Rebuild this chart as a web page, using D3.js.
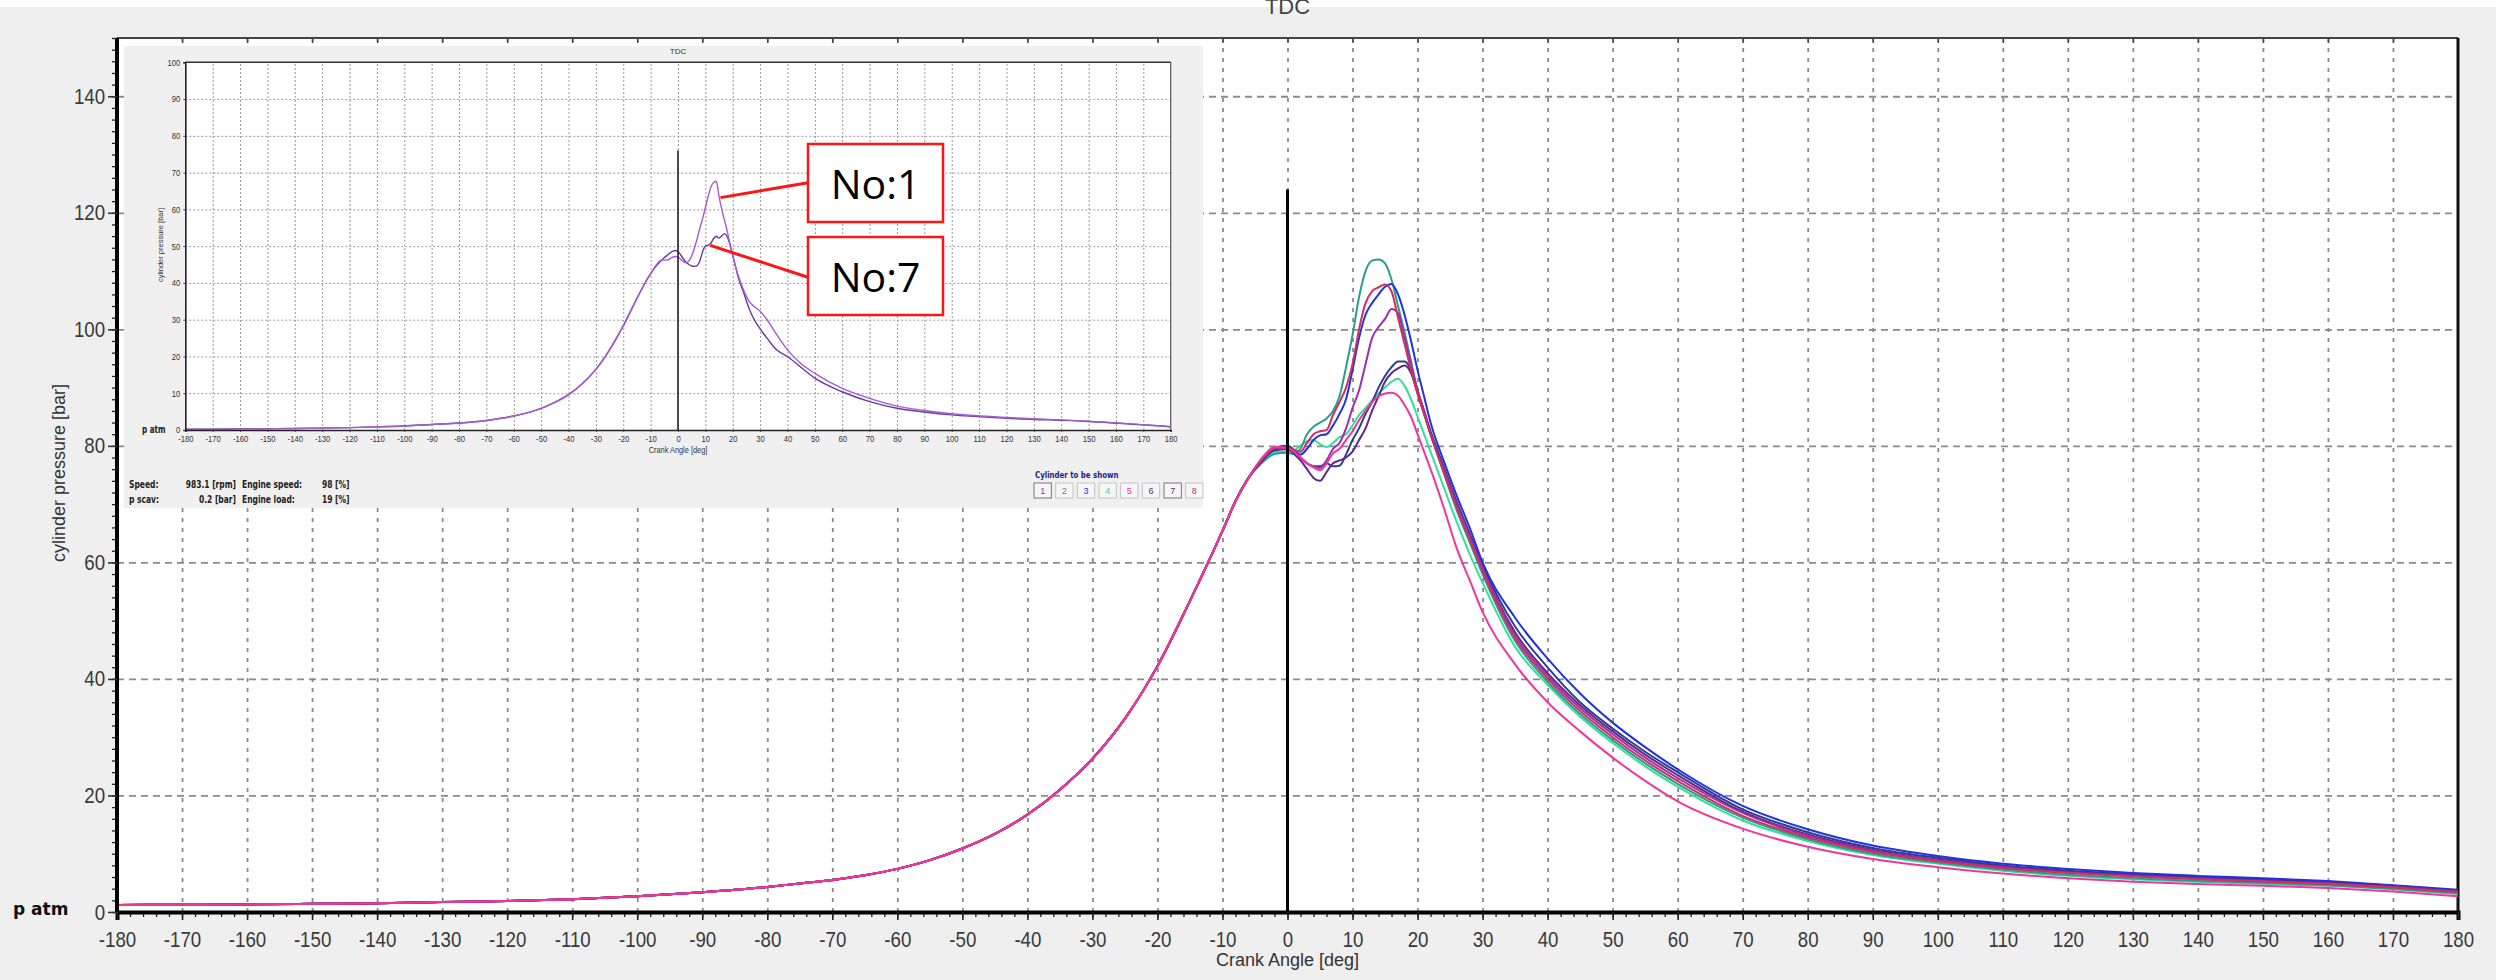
<!DOCTYPE html>
<html>
<head>
<meta charset="utf-8">
<script src="https://cdnjs.cloudflare.com/ajax/libs/d3/7.8.5/d3.min.js"></script>
<style>
  html, body { margin: 0; padding: 0; background: #efefef; }
  svg { display: block; }
</style>
</head>
<body>
<svg id="chart" width="2496" height="980"></svg>
<script>
// ---------- main chart: cylinder pressure of 8 cylinders ----------
// compression stroke, shared by all cylinders (crank angle [deg], pressure [bar])
const compAngles   = [-180,-170,-160,-150,-140,-130,-120,-110,-100,-90,-80,-75,-70,-65,-60,-55,-50,-45,-40,-35,-30,-25,-20,-15,-10,-8,-6];
const compPressure = [1.2,1.25,1.3,1.4,1.5,1.7,1.9,2.2,2.7,3.4,4.3,4.9,5.5,6.3,7.4,8.9,10.9,13.4,16.7,21.0,26.3,33.2,42.2,53.4,65.4,70.5,74.5];

// crank angles from TDC region onwards
const cylAngles = [-4,-2,0,1,2,3,4,5,6,7,8,9,10,11,12,13,14,15,16,17,18,19,20,21,22,24,26,28,30,35,40,45,50,55,60,70,80,90,100,110,120,130,140,150,160,170,180];

const cyl1 = [77.6,79.6,79.8,79.0,78.0,77.0,76.5,76.2,77.5,79.5,80.5,83.0,86.5,89.5,94.0,98.5,100.4,101.8,103.5,102.8,98.5,94.0,89.5,86.0,82.0,76.0,70.0,64.5,59.0,47.5,40.5,35.0,30.5,26.5,23.0,17.0,13.1,10.5,8.9,7.7,6.8,6.2,5.7,5.3,4.9,4.3,3.5];
const cyl2 = [77.0,78.6,78.8,78.6,79.5,82.0,83.3,84.0,84.7,86.0,88.5,93.5,99.0,105.5,110.0,111.8,112.0,111.3,108.5,104.0,99.5,94.5,89.5,85.8,82.3,75.5,69.0,63.5,58.0,46.5,39.5,34.0,29.5,25.5,22.0,16.2,12.5,10.0,8.5,7.3,6.4,5.8,5.3,5.0,4.6,4.0,3.2];
const cyl3 = [77.4,79.2,79.4,79.0,78.5,79.5,81.0,81.8,82.0,83.5,85.5,88.0,93.0,98.5,102.5,104.5,106.0,107.3,107.8,106.0,102.5,98.0,93.0,88.5,84.0,77.5,71.5,66.0,60.0,50.5,43.5,37.5,32.5,28.3,24.5,18.2,14.2,11.4,9.6,8.3,7.4,6.7,6.2,5.8,5.3,4.6,3.8];
const cyl4 = [77.2,78.9,79.0,79.2,80.0,80.8,81.0,80.3,79.8,80.5,81.5,82.0,83.5,85.3,86.5,87.8,89.0,90.0,91.0,91.5,90.3,88.0,85.0,82.0,79.0,73.0,67.0,61.5,56.5,45.5,39.0,33.5,29.0,25.0,21.5,15.7,12.2,9.8,8.3,7.1,6.2,5.6,5.2,4.8,4.5,3.9,3.1];
const cyl5 = [77.8,79.8,79.6,79.0,78.0,77.0,76.3,75.8,77.0,78.7,79.5,81.0,82.5,84.4,86.0,87.5,88.5,89.0,89.1,88.6,87.0,85.0,82.0,79.0,76.0,69.5,62.5,57.0,51.5,42.5,36.0,31.0,26.5,22.5,19.0,14.3,11.2,9.1,7.7,6.6,5.8,5.2,4.8,4.5,4.1,3.5,2.7];
const cyl6 = [77.5,79.6,80.0,79.3,78.0,77.0,76.5,76.5,77.0,76.5,76.6,78.5,81.0,83.0,85.5,87.5,90.0,92.0,93.5,94.5,94.5,93.0,89.5,86.0,82.5,76.5,70.5,65.0,59.5,49.0,42.0,36.0,31.5,27.5,24.0,17.6,13.7,11.0,9.3,8.0,7.1,6.5,6.0,5.6,5.2,4.5,3.7];
const cyl7 = [77.3,79.4,79.5,78.6,77.5,76.0,74.5,74.0,75.5,77.0,77.5,78.0,79.0,81.0,83.0,86.0,88.5,91.0,92.5,93.3,93.8,92.5,89.0,85.5,82.0,76.0,70.0,64.5,59.0,48.0,41.0,35.5,31.0,27.0,23.5,17.2,13.3,10.7,9.0,7.8,6.9,6.3,5.8,5.4,5.0,4.4,3.5];
const cyl8 = [77.6,79.6,79.6,79.3,79.0,80.5,82.0,82.5,82.7,85.3,87.5,90.0,94.0,100.0,104.5,106.5,107.2,107.7,106.5,102.0,97.5,93.0,89.0,85.5,82.0,75.5,69.5,64.0,58.5,47.0,40.0,34.5,30.0,26.0,22.5,16.5,12.8,10.3,8.7,7.5,6.7,6.1,5.6,5.2,4.8,4.2,3.4];

const cylNames  = ['1','2','3','4','5','6','7','8'];
const cylSeries = [cyl1, cyl2, cyl3, cyl4, cyl5, cyl6, cyl7, cyl8];
const cylColors = ['#9c2fae','#2a9d8f','#2233dd','#33e09a','#f0369c','#2c3e8e','#5c2a88','#d42e5c'];
const drawOrder = [3, 1, 5, 2, 6, 0, 7, 4];

// axis ticks
const xTicks = d3.range(-180, 181, 10);
const yTicks = d3.range(0, 141, 20);

// ---------- inset: earlier recording, cylinders No:1 and No:7 ----------
const insetCompAngles   = [-180,-170,-160,-150,-140,-130,-120,-110,-100,-90,-80,-70,-60,-50,-45,-40,-35,-30,-25,-20,-15,-10,-6];
const insetCompPressure = [0.2,0.25,0.3,0.35,0.4,0.5,0.65,0.85,1.1,1.5,1.9,2.6,3.8,5.9,7.5,9.6,12.6,16.5,21.8,28.3,35.8,42.5,46.2];
const insetAngles = [-4,-2,-1,0,1,2,3,4,5,6,7,8,9,10,11,12,13,14,15,16,17,18,19,20,21,22,24,26,28,30,33,36,40,45,50,60,70,80,90,100,120,150,180];
const insetNo1 = [46.2,47.0,47.2,47.0,46.4,45.8,45.5,46.0,47.3,49.5,52.0,55.0,57.5,60.5,63.5,66.0,67.3,67.6,63.5,60.0,57.0,54.0,50.5,47.5,44.5,42.0,38.0,35.0,33.5,32.3,29.5,26.0,21.8,18.0,15.4,11.3,8.6,6.5,5.3,4.4,3.4,2.4,0.9];
const insetNo7 = [47.5,48.6,48.8,48.5,47.6,46.5,45.6,45.0,44.6,44.5,44.7,46.0,48.5,50.0,50.2,50.8,52.0,52.7,52.2,52.8,53.4,52.5,50.5,47.5,44.5,41.5,37.3,33.0,29.8,27.5,24.5,21.8,20.0,17.0,14.1,10.4,7.7,5.9,4.9,4.1,3.2,2.3,0.9];
const insetXTicks = d3.range(-180, 181, 10);
const insetYTicks = d3.range(0, 101, 10);

// operating data shown below the inset plot
const infoRows = [
  ['Speed:',  '983.1 [rpm]', 'Engine speed:', '98 [%]'],
  ['p scav:', '0.2 [bar]',   'Engine load:',  '19 [%]']
];

// ======================================================================
const W = 2496, H = 980;
const svg = d3.select('#chart');
const SANS = "'Liberation Sans', Arial, sans-serif";
const BOLD = "'DejaVu Sans', Verdana, sans-serif";

svg.append('rect').attr('width', W).attr('height', H).attr('fill', '#efefef');
svg.append('rect').attr('width', W).attr('height', 7).attr('fill', '#ffffff');

function label(g, x, y, str, o) {
  return g.append('text')
    .attr('transform', `translate(${x},${y}) rotate(${o.rot || 0}) scale(${o.sx || 1},1)`)
    .attr('font-family', o.family || SANS)
    .attr('font-size', o.size)
    .attr('font-weight', o.weight || 'normal')
    .attr('fill', o.fill || '#000')
    .attr('text-anchor', o.anchor || 'start')
    .text(str);
}

// ---------- main plot ----------
const P = { left: 117, right: 2458, top: 38, bottom: 912 };
const x = d3.scaleLinear().domain([-180, 180]).range([P.left, P.right]);
const y = d3.scaleLinear().domain([0, 150]).range([P.bottom, P.top]);

svg.append('rect')
  .attr('x', P.left).attr('y', P.top)
  .attr('width', P.right - P.left).attr('height', P.bottom - P.top)
  .attr('fill', '#ffffff');

// grid
const gridV = svg.append('g').attr('transform', `translate(0,${P.bottom})`)
  .call(d3.axisBottom(x).tickValues(d3.range(-170, 180, 10)).tickSize(-(P.bottom - P.top)).tickFormat(''));
gridV.select('.domain').remove();
gridV.selectAll('line').attr('stroke', '#8a8a8a').attr('stroke-width', 1.8).attr('stroke-dasharray', '4,6');

const gridH = svg.append('g').attr('transform', `translate(${P.left},0)`)
  .call(d3.axisLeft(y).tickValues(d3.range(20, 150, 20)).tickSize(-(P.right - P.left)).tickFormat(''));
gridH.select('.domain').remove();
gridH.selectAll('line').attr('stroke', '#8a8a8a').attr('stroke-width', 1.8).attr('stroke-dasharray', '7,5');

// top border with short ticks
svg.append('line').attr('x1', P.left).attr('x2', P.right).attr('y1', P.top).attr('y2', P.top)
  .attr('stroke', '#444').attr('stroke-width', 2);
const topTicks = svg.append('g').attr('transform', `translate(0,${P.top})`)
  .call(d3.axisBottom(x).tickValues(d3.range(-170, 180, 10)).tickSize(5).tickFormat(''));
topTicks.select('.domain').remove();
topTicks.selectAll('line').attr('stroke', '#444').attr('stroke-width', 1.5);

// right border
svg.append('line').attr('x1', P.right).attr('x2', P.right).attr('y1', P.top).attr('y2', P.bottom)
  .attr('stroke', '#111').attr('stroke-width', 3);

// cylinder curves
svg.append('clipPath').attr('id', 'plotClip').append('rect')
  .attr('x', P.left).attr('y', P.top).attr('width', P.right - P.left).attr('height', P.bottom - P.top);

const line = d3.line().x(d => x(d[0])).y(d => y(d[1])).curve(d3.curveMonotoneX);
const comp = compAngles.map((a, i) => [a, compPressure[i]]);
const curves = svg.append('g').attr('clip-path', 'url(#plotClip)');
drawOrder.forEach(i => {
  const pts = comp.concat(cylAngles.map((a, j) => [a, cylSeries[i][j]]));
  curves.append('path')
    .datum(pts)
    .attr('fill', 'none')
    .attr('stroke', cylColors[i])
    .attr('stroke-width', 2)
    .attr('stroke-linejoin', 'round')
    .attr('d', line)
    .append('title').text('Cylinder ' + cylNames[i]);
});

// TDC marker
svg.append('line').attr('x1', x(0)).attr('x2', x(0)).attr('y1', y(0)).attr('y2', y(124))
  .attr('stroke', '#000').attr('stroke-width', 3);
label(svg, x(0), 14, 'TDC', { size: 22, fill: '#444', anchor: 'middle' });

// x axis
const xMinor = svg.append('g').attr('transform', `translate(0,${P.bottom})`)
  .call(d3.axisBottom(x).tickValues(d3.range(-180, 181, 2)).tickSize(5).tickFormat(''));
xMinor.select('.domain').remove();
xMinor.selectAll('line').attr('stroke', '#222').attr('stroke-width', 1.3);

const xAxis = svg.append('g').attr('transform', `translate(0,${P.bottom})`)
  .call(d3.axisBottom(x).tickValues(xTicks).tickSize(8).tickPadding(11).tickFormat(d => String(d)));
xAxis.select('.domain').attr('stroke', '#000').attr('stroke-width', 4);
xAxis.selectAll('line').attr('stroke', '#222').attr('stroke-width', 1.6);
xAxis.selectAll('text')
  .attr('font-family', SANS).attr('font-size', 22).attr('fill', '#3a3a3a')
  .attr('transform', 'scale(0.85,1)');

// y axis
const yMinor = svg.append('g').attr('transform', `translate(${P.left},0)`)
  .call(d3.axisLeft(y).tickValues(d3.range(0, 151, 2)).tickSize(5).tickFormat(''));
yMinor.select('.domain').remove();
yMinor.selectAll('line').attr('stroke', '#222').attr('stroke-width', 1.3);

const yAxis = svg.append('g').attr('transform', `translate(${P.left},0)`)
  .call(d3.axisLeft(y).tickValues(yTicks).tickSize(9).tickPadding(5).tickFormat(d => String(d)));
yAxis.select('.domain').attr('stroke', '#000').attr('stroke-width', 4)
  .attr('d', `M0,${P.bottom}V${P.top}`);
yAxis.selectAll('line').attr('stroke', '#333').attr('stroke-width', 1.6);
yAxis.selectAll('text')
  .attr('font-family', SANS).attr('font-size', 22).attr('fill', '#3a3a3a')
  .attr('transform', 'scale(0.85,1)');

label(svg, 13, 915, 'p atm', { size: 17, weight: 'bold', family: BOLD, fill: '#111' });
label(svg, 65, 473, 'cylinder pressure [bar]', { size: 18, rot: -90, anchor: 'middle', fill: '#333' });
label(svg, x(0), 966, 'Crank Angle [deg]', { size: 18, anchor: 'middle', fill: '#333' });

// ---------- inset ----------
const I = { x0: 124, y0: 46, x1: 1203, y1: 508 };
const IP = { left: 185.3, right: 1170.7, top: 62.3, bottom: 430 };
const xi = d3.scaleLinear().domain([-180, 180]).range([IP.left, IP.right]);
const yi = d3.scaleLinear().domain([0, 100]).range([IP.bottom, IP.top]);

const inset = svg.append('g');
inset.append('rect').attr('x', I.x0).attr('y', I.y0).attr('width', I.x1 - I.x0).attr('height', I.y1 - I.y0)
  .attr('fill', '#f0f0f0');
inset.append('rect').attr('x', IP.left).attr('y', IP.top)
  .attr('width', IP.right - IP.left).attr('height', IP.bottom - IP.top).attr('fill', '#ffffff');

const igV = inset.append('g').attr('transform', `translate(0,${IP.bottom})`)
  .call(d3.axisBottom(xi).tickValues(d3.range(-170, 180, 10)).tickSize(-(IP.bottom - IP.top)).tickFormat(''));
igV.select('.domain').remove();
igV.selectAll('line').attr('stroke', '#9a9a9a').attr('stroke-width', 1).attr('stroke-dasharray', '2,2');
const igH = inset.append('g').attr('transform', `translate(${IP.left},0)`)
  .call(d3.axisLeft(yi).tickValues(d3.range(10, 100, 10)).tickSize(-(IP.right - IP.left)).tickFormat(''));
igH.select('.domain').remove();
igH.selectAll('line').attr('stroke', '#9a9a9a').attr('stroke-width', 1).attr('stroke-dasharray', '2,2');

// inset frame
inset.append('line').attr('x1', IP.left).attr('x2', IP.right).attr('y1', IP.top).attr('y2', IP.top)
  .attr('stroke', '#333').attr('stroke-width', 1.5);
inset.append('line').attr('x1', IP.right).attr('x2', IP.right).attr('y1', IP.top).attr('y2', IP.bottom)
  .attr('stroke', '#555').attr('stroke-width', 1.2);

const iLine = d3.line().x(d => xi(d[0])).y(d => yi(d[1])).curve(d3.curveMonotoneX);
const iComp = insetCompAngles.map((a, i) => [a, insetCompPressure[i]]);
[[insetNo7, '#6a3aa0'], [insetNo1, '#a45ccb']].forEach(([vals, col]) => {
  inset.append('path')
    .datum(iComp.concat(insetAngles.map((a, j) => [a, vals[j]])))
    .attr('fill', 'none').attr('stroke', col).attr('stroke-width', 1.4)
    .attr('d', iLine);
});

// inset TDC
inset.append('line').attr('x1', xi(0)).attr('x2', xi(0)).attr('y1', yi(0)).attr('y2', yi(76))
  .attr('stroke', '#222').attr('stroke-width', 1.6);
label(inset, xi(0), 54, 'TDC', { size: 8, anchor: 'middle', fill: '#333' });

// inset axes
const ixAxis = inset.append('g').attr('transform', `translate(0,${IP.bottom})`)
  .call(d3.axisBottom(xi).tickValues(insetXTicks).tickSize(2).tickPadding(4).tickFormat(d => String(d)));
ixAxis.select('.domain').attr('stroke', '#222').attr('stroke-width', 1.6);
ixAxis.selectAll('line').attr('stroke', '#444');
ixAxis.selectAll('text').attr('font-family', SANS).attr('font-size', 9).attr('fill', '#333')
  .attr('transform', 'scale(0.85,1)');

const iyAxis = inset.append('g').attr('transform', `translate(${IP.left},0)`)
  .call(d3.axisLeft(yi).tickValues(insetYTicks).tickSize(2).tickPadding(4).tickFormat(d => String(d)));
iyAxis.select('.domain').attr('stroke', '#222').attr('stroke-width', 1.6);
iyAxis.selectAll('line').attr('stroke', '#444');
iyAxis.selectAll('text').attr('font-family', SANS).attr('font-size', 9).attr('fill', '#333')
  .attr('transform', 'scale(0.85,1)');

label(inset, 142, 433, 'p atm', { size: 10, weight: 'bold', family: BOLD, sx: 0.72, fill: '#222' });
label(inset, 163, 245, 'cylinder pressure [bar]', { size: 7.5, rot: -90, anchor: 'middle', fill: '#333' });
label(inset, xi(0), 453, 'Crank Angle [deg]', { size: 9, anchor: 'middle', sx: 0.82, fill: '#333' });

// operating data
infoRows.forEach((row, r) => {
  const by = 488 + r * 15;
  const o = { size: 10.5, weight: 'bold', family: BOLD, sx: 0.72, fill: '#222' };
  label(inset, 129, by, row[0], o);
  label(inset, 236, by, row[1], Object.assign({}, o, { anchor: 'end' }));
  label(inset, 242, by, row[2], o);
  label(inset, 322, by, row[3], o);
});

// cylinder selector
label(inset, 1035, 478, 'Cylinder to be shown', { size: 9.5, weight: 'bold', family: BOLD, sx: 0.74, fill: '#1c1c8c' });
const btnX = d3.scaleBand().domain(cylNames).range([1034, 1203]).paddingInner(0.2);
const btn = inset.selectAll('g.btn').data(cylNames).join('g').attr('class', 'btn')
  .attr('transform', d => `translate(${btnX(d)},483)`);
btn.append('rect').attr('width', btnX.bandwidth()).attr('height', 15)
  .attr('fill', '#f6f6f6')
  .attr('stroke', d => (d === '1' || d === '7') ? '#777' : '#c4c4c4')
  .attr('stroke-width', 1);
btn.append('text').attr('x', btnX.bandwidth() / 2).attr('y', 11)
  .attr('text-anchor', 'middle').attr('font-family', SANS).attr('font-size', 9)
  .attr('fill', (d, i) => cylColors[i]).text(d => d);

// annotations for the two inset cylinders
const notes = [
  { text: 'No:1', angle: 15.5, value: 63.2, box: [808, 144], anchorY: 182.7 },
  { text: 'No:7', angle: 11.8, value: 50.2, box: [808, 237], anchorY: 277.3 }
];
notes.forEach(n => {
  inset.append('line')
    .attr('x1', xi(n.angle)).attr('y1', yi(n.value))
    .attr('x2', n.box[0]).attr('y2', n.anchorY)
    .attr('stroke', '#ff1414').attr('stroke-width', 3);
  inset.append('rect').attr('x', n.box[0]).attr('y', n.box[1]).attr('width', 135).attr('height', 78)
    .attr('fill', '#ffffff').attr('stroke', '#ff1414').attr('stroke-width', 2.5);
  label(inset, n.box[0] + 67.5, n.box[1] + 54.5, n.text,
    { size: 41, family: "'Open Sans', 'Noto Sans', sans-serif", anchor: 'middle', fill: '#000' });
});
</script>
</body>
</html>
